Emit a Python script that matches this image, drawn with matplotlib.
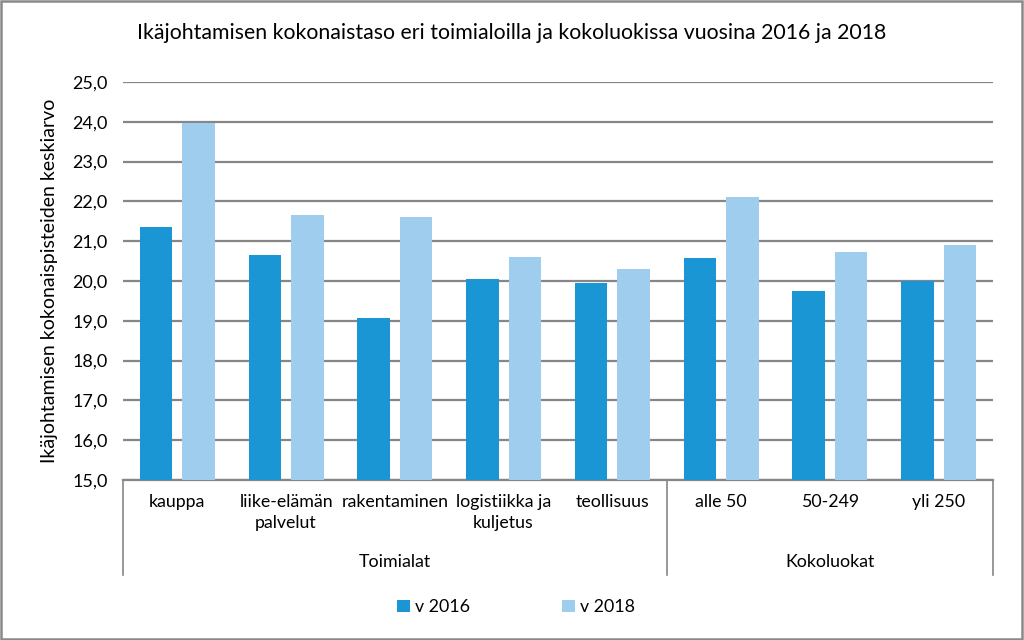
import matplotlib.pyplot as plt
import numpy as np
from matplotlib.patches import Rectangle

plt.rcParams['font.family'] = ['Lato', 'DejaVu Sans']

categories = ["kauppa", "liike-elämän\npalvelut", "rakentaminen", "logistiikka ja\nkuljetus",
              "teollisuus", "alle 50", "50-249", "yli 250"]
groups = ["Toimialat", "Kokoluokat"]
group_sizes = [5, 3]
v2016 = [21.35, 20.65, 19.07, 20.04, 19.94, 20.59, 19.74, 20.01]
v2018 = [23.98, 21.65, 21.60, 20.60, 20.30, 22.12, 20.72, 20.90]
yticks = np.arange(15, 25.01, 1.0)

c2016 = "#1a96d4"
c2018 = "#9fcdee"
grid_c = "#868686"

fig = plt.figure(figsize=(10.24, 6.4), dpi=100)
ax = fig.add_axes([123 / 1024, 160 / 640, 870 / 1024, 398 / 640])

x = np.arange(len(categories))
w = 0.30
ax.bar(x - 0.195, [v - 15 for v in v2016], w, bottom=15, color=c2016, label="v 2016", zorder=3)
ax.bar(x + 0.195, [v - 15 for v in v2018], w, bottom=15, color=c2018, label="v 2018", zorder=3)

ax.set_xlim(-0.5, len(categories) - 0.5)
ax.set_ylim(15, 25)
ax.set_yticks(yticks)
ax.set_yticklabels([f"{t:.1f}".replace(".", ",") for t in yticks], fontsize=13)
ax.yaxis.grid(True, color=grid_c, linewidth=1.6, zorder=0)
ax.set_axisbelow(True)
for s in ["top", "right", "left"]:
    ax.spines[s].set_visible(False)
ax.spines["bottom"].set_color(grid_c)
ax.spines["bottom"].set_linewidth(1.6)
ax.tick_params(axis="both", length=0)
ax.tick_params(axis="y", pad=11)

ax.set_xticks(x)
ax.set_xticklabels(categories, fontsize=12.8, linespacing=1.4, va="top")
ax.tick_params(axis="x", pad=10)

ax.set_ylabel("Ikäjohtamisen kokonaispisteiden keskiarvo", fontsize=14, labelpad=10)

# group separators and labels
trans = ax.get_xaxis_transform()
bounds = np.concatenate([[0], np.cumsum(group_sizes)]) - 0.5
for b in bounds:
    ax.plot([b, b], [0, -0.239], transform=trans, color=grid_c, linewidth=1.2, clip_on=False)
for i, g in enumerate(groups):
    mid = (bounds[i] + bounds[i + 1]) / 2
    ax.text(mid, -0.207, g, transform=trans, ha="center", va="center", fontsize=12.8)

fig.text(0.5, 1 - 33 / 640, "Ikäjohtamisen kokonaistaso eri toimialoilla ja kokoluokissa vuosina 2016 ja 2018",
         ha="center", va="center", fontsize=15.3)

fig.legend(loc="center", bbox_to_anchor=(0.504, 1 - 607 / 640), ncol=2, frameon=False, fontsize=12.8,
           handlelength=0.7, handleheight=0.7, handletextpad=0.3, columnspacing=5.2)

fig.patches.append(Rectangle((0.001, 0.002), 0.997, 0.996, transform=fig.transFigure,
                             fill=False, edgecolor="#898989", linewidth=1.8))

fig.savefig("out.png", dpi=100)
